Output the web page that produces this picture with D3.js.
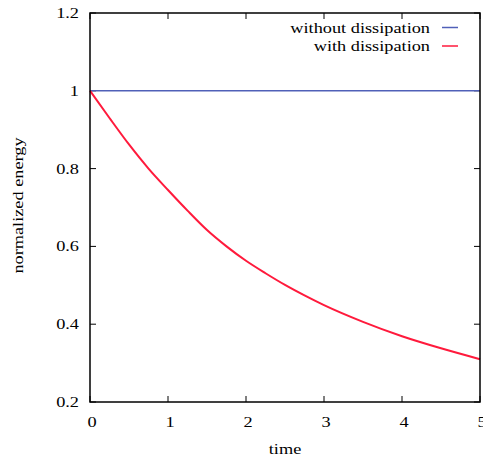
<!DOCTYPE html>
<html>
<head>
<meta charset="utf-8">
<script src="https://cdn.jsdelivr.net/npm/d3@7"></script>
<style>
  body { margin: 0; background: #fff; }
  text { font-family: "Liberation Serif", "DejaVu Serif", serif; }
</style>
</head>
<body>
<script>
// data
var timeValues = [0, 0.25, 0.5, 0.75, 1, 1.25, 1.5, 1.75, 2, 2.25, 2.5, 2.75, 3, 3.5, 4, 4.5, 5]
var withDissipation = [1.0, 0.93, 0.862, 0.8, 0.745, 0.692, 0.642, 0.6, 0.563, 0.531, 0.501, 0.474, 0.449, 0.406, 0.369, 0.338, 0.31]
var withoutDissipation = [1, 1, 1, 1, 1, 1, 1, 1, 1, 1, 1, 1, 1, 1, 1, 1, 1]
var xTicks = [0, 1, 2, 3, 4, 5]
var yTicks = [0.2, 0.4, 0.6, 0.8, 1, 1.2]
var seriesNames = ["without dissipation", "with dissipation"]
var seriesColors = ["#5060b8", "#ff1a3c"]

var w = 483
var h = 459
// plot box (don't use "top" - clashes with window.top)
var padL = 90, padR = 480, padT = 13, padB = 402
// the reference font looks stretched sideways
var stretch = 1.22

var svg = d3.select("body")
	.append("svg")
	.attr("width", w)
	.attr("height", h)

var xScale = d3.scaleLinear().domain([0, 5]).range([padL, padR])
var yScale = d3.scaleLinear().domain([0.2, 1.2]).range([padB, padT])

// helper for stretched text
function label(x, y, str, anchor, size) {
	return svg.append("text")
		.attr("transform", "translate(" + x + "," + y + ") scale(" + stretch + ",1)")
		.attr("text-anchor", anchor)
		.attr("font-size", size)
		.text(str)
}

// tick marks, inward on all four sides
var tickLen = 6
var g = svg.append("g").attr("stroke", "#000").attr("stroke-width", 1)
xTicks.forEach(function(t) {
	g.append("line").attr("x1", xScale(t)).attr("x2", xScale(t))
		.attr("y1", padB).attr("y2", padB - tickLen)
	g.append("line").attr("x1", xScale(t)).attr("x2", xScale(t))
		.attr("y1", padT).attr("y2", padT + tickLen)
})
yTicks.forEach(function(t) {
	g.append("line").attr("x1", padL).attr("x2", padL + tickLen)
		.attr("y1", yScale(t)).attr("y2", yScale(t))
	g.append("line").attr("x1", padR).attr("x2", padR - tickLen)
		.attr("y1", yScale(t)).attr("y2", yScale(t))
})

// tick labels
xTicks.forEach(function(d) {
	label(xScale(d) + 2, 427, d, "middle", 15)
})
yTicks.forEach(function(d) {
	label(79, yScale(d) + 5, d3.format("~g")(d), "end", 15)
})

// axis titles
label(285, 454, "time", "middle", 15)

svg.append("text")
	.attr("transform", "translate(23," + ((padT + padB) / 2 - 2) + ") rotate(-90) scale(" + stretch + ",1)")
	.attr("text-anchor", "middle")
	.attr("font-size", 15)
	.text("normalized energy")

// lines
var line = d3.line()
	.x(function(d) { return xScale(d[0]) })
	.y(function(d) { return yScale(d[1]) })
	.curve(d3.curveMonotoneX)

var series = [withoutDissipation, withDissipation]
series.forEach(function(s, i) {
	svg.append("path")
		.datum(timeValues.map(function(t, j) { return [t, s[j]] }))
		.attr("fill", "none")
		.attr("stroke", seriesColors[i])
		.attr("stroke-width", i === 0 ? 1.5 : 2)
		.attr("d", line)
})

// legend
seriesNames.forEach(function(name, i) {
	var y = 27.5 + i * 18.5
	label(430, y + 5, name, "end", 15)
	svg.append("line")
		.attr("x1", 442).attr("x2", 458)
		.attr("y1", y).attr("y2", y)
		.attr("stroke", seriesColors[i])
		.attr("stroke-width", 1.5)
})

// frame
svg.append("rect")
	.attr("x", padL).attr("y", padT)
	.attr("width", padR - padL).attr("height", padB - padT)
	.attr("fill", "none")
	.attr("stroke", "#000")
	.attr("stroke-width", 1.5)
</script>
</body>
</html>
